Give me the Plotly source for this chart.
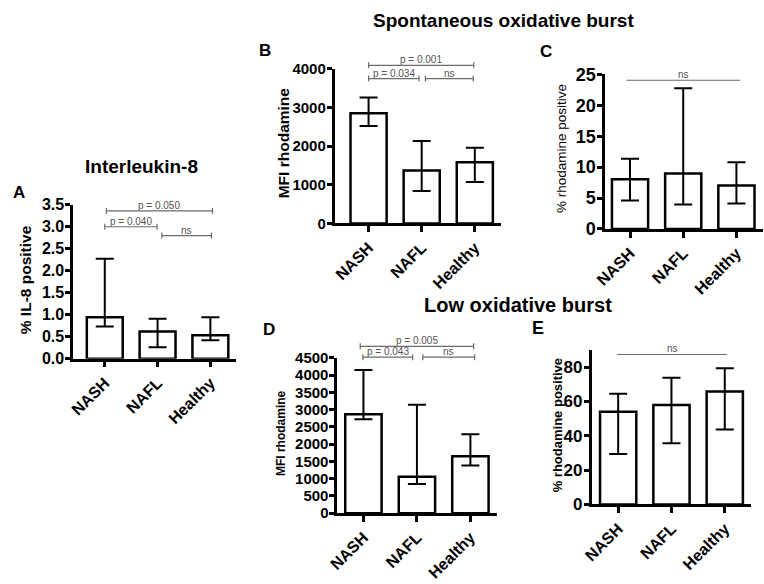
import plotly.graph_objects as go

W, H = 764, 584

groups = ["NASH", "NAFL", "Healthy"]

# Panel A: % IL-8 positive
a_vals = [0.94, 0.62, 0.53]
a_upper = [2.27, 0.91, 0.94]
a_lower = [0.73, 0.26, 0.42]
a_ticks = [0.0, 0.5, 1.0, 1.5, 2.0, 2.5, 3.0, 3.5]

# Panel B: spontaneous, MFI rhodamine
b_vals = [2850, 1367, 1583]
b_upper = [3258, 2133, 1958]
b_lower = [2525, 842, 1075]
b_ticks = [0, 1000, 2000, 3000, 4000]

# Panel C: spontaneous, % rhodamine positive
c_vals = [8.03, 8.97, 7.03]
c_upper = [11.36, 22.77, 10.78]
c_lower = [4.59, 3.97, 4.12]
c_ticks = [0, 5, 10, 15, 20, 25]

# Panel D: low, MFI rhodamine
d_vals = [2865, 1055, 1652]
d_upper = [4153, 3145, 2288]
d_lower = [2725, 849, 1381]
d_ticks = [0, 500, 1000, 1500, 2000, 2500, 3000, 3500, 4000, 4500]

# Panel E: low, % rhodamine positive
e_vals = [54.0, 57.9, 65.8]
e_upper = [64.5, 73.8, 79.3]
e_lower = [29.4, 35.6, 43.7]
e_ticks = [0, 20, 40, 60, 80]

# significance brackets: (x start, x end, level, label, end ticks)
a_sig = [(0.03, 2.04, 3.36, "p = 0.050", True),
         (0.0, 0.99, 3.00, "p = 0.040", True),
         (1.08, 2.02, 2.80, "ns", True)]
b_sig = [(0.0, 1.98, 4093, "p = 0.001", True),
         (0.0, 0.95, 3750, "p = 0.034", True),
         (1.07, 1.97, 3750, "ns", True)]
c_sig = [(-0.07, 2.07, 24.06, "ns", False)]
d_sig = [(-0.06, 2.06, 4836, "p = 0.005", True),
         (-0.01, 0.92, 4522, "p = 0.043", True),
         (1.11, 2.08, 4522, "ns", True)]
e_sig = [(-0.02, 2.04, 87.3, "ns", False)]

FONT = "Liberation Sans, Arial, Helvetica, sans-serif"

def fx(px):
    return px / W

def fy(py):
    return 1 - py / H

panels = [
    dict(vals=a_vals, up=a_upper, lo=a_lower, ticks=a_ticks, ymax=3.5, fmt=".1f",
         xd=(63, 228), yd=(361, 201.7), xr=(-0.6, 2.48), tsize=16, sig=a_sig),
    dict(vals=b_vals, up=b_upper, lo=b_lower, ticks=b_ticks, ymax=4000, fmt="d",
         xd=(328.3, 497), yd=(221, 61), xr=(-0.64, 2.49), tsize=15, sig=b_sig),
    dict(vals=c_vals, up=c_upper, lo=c_lower, ticks=c_ticks, ymax=25, fmt="d",
         xd=(602.7, 763), yd=(226.7, 66.7), xr=(-0.47, 2.5), tsize=18, sig=c_sig),
    dict(vals=d_vals, up=d_upper, lo=d_lower, ticks=d_ticks, ymax=4500, fmt="d",
         xd=(331, 492.7), yd=(521, 360.3), xr=(-0.49, 2.49), tsize=15, sig=d_sig),
    dict(vals=e_vals, up=e_upper, lo=e_lower, ticks=e_ticks, ymax=90, fmt="d",
         xd=(589, 750.7), yd=(512, 351.9), xr=(-0.5, 2.49), tsize=17, sig=e_sig),
]

fig = go.Figure()
shapes = []
annotations = []

for i, p in enumerate(panels):
    n = "" if i == 0 else str(i + 1)
    xa, ya = "x" + n, "y" + n
    fig.add_trace(go.Bar(
        x=list(range(len(groups))), y=p["vals"],
        xaxis=xa, yaxis=ya, width=0.68,
        marker=dict(color="white", line=dict(color="black", width=2.5)),
        error_y=dict(type="data", symmetric=False,
                     array=[u - v for u, v in zip(p["up"], p["vals"])],
                     arrayminus=[v - l for v, l in zip(p["vals"], p["lo"])],
                     color="black", thickness=2, width=9),
        showlegend=False, hoverinfo="skip",
    ))
    fig.layout["xaxis" + n] = dict(
        domain=[fx(p["xd"][0]), fx(p["xd"][1])], anchor=ya, range=list(p["xr"]),
        tickmode="array", tickvals=list(range(len(groups))), ticktext=groups,
        tickangle=-45, ticks="outside", ticklen=6, tickwidth=2.5, tickcolor="black",
        showline=True, linecolor="black", linewidth=2.5, showgrid=False, zeroline=False,
        tickfont=dict(family=FONT, size=16, color="black", weight="bold"),
        fixedrange=True,
    )
    fig.layout["yaxis" + n] = dict(
        domain=[fy(p["yd"][0]), fy(p["yd"][1])], anchor=xa, range=[0, p["ymax"]],
        tickmode="array", tickvals=p["ticks"], tickformat=p["fmt"],
        ticks="outside", ticklen=5, tickwidth=2.5, tickcolor="black",
        ticklabelstandoff=-2,
        showline=True, linecolor="black", linewidth=2.5, showgrid=False, zeroline=False,
        tickfont=dict(family=FONT, size=p["tsize"], color="black", weight="bold"),
        fixedrange=True,
    )
    yref_dom = ya + " domain"
    for (x0, x1, lvl, label, endticks) in p["sig"]:
        yd = lvl / p["ymax"]
        shapes.append(dict(type="line", xref=xa, yref=yref_dom, x0=x0, x1=x1, y0=yd, y1=yd,
                           line=dict(color="#6b6b6b", width=1.2)))
        if endticks:
            for xe in (x0, x1):
                shapes.append(dict(type="line", xref=xa, yref=yref_dom, ysizemode="pixel",
                                   yanchor=yd, x0=xe, x1=xe, y0=-3, y1=3,
                                   line=dict(color="#6b6b6b", width=1.2)))
        annotations.append(dict(xref=xa, yref=yref_dom, x=(x0 + x1) / 2, y=yd, text=label,
                                showarrow=False, xanchor="center", yanchor="bottom", yshift=-2,
                                font=dict(family=FONT, size=10, color="#555555")))

def txt(text, x, y, size, bold=True, angle=0, color="black"):
    annotations.append(dict(xref="paper", yref="paper", x=fx(x), y=fy(y), text=text,
                            showarrow=False, xanchor="center", yanchor="middle", textangle=angle,
                            font=dict(family=FONT, size=size, color=color,
                                      weight="bold" if bold else "normal")))

# titles
txt("Interleukin-8", 132, 162, 19)
txt("Spontaneous oxidative burst", 500, 11, 19)
txt("Low oxidative burst", 514, 305, 20)
# panel letters
txt("A", 8, 189, 17)
txt("B", 258, 42, 17)
txt("C", 543, 43, 17)
txt("D", 262, 331, 17)
txt("E", 535, 329, 18)
# y-axis titles
txt("% IL-8 positive", 15, 279, 15.5, angle=-90)
txt("MFI rhodamine", 276, 138, 15.5, angle=-90)
txt("% rhodamine positive", 558, 143, 13.5, bold=False, angle=-90)
txt("MFI rhodamine", 274, 438, 12, angle=-90)
txt("% rhodamine positive", 554, 430, 13, angle=-90)

fig.update_layout(
    width=W, height=H, margin=dict(l=0, r=0, t=0, b=0),
    paper_bgcolor="white", plot_bgcolor="white",
    shapes=shapes, annotations=annotations, showlegend=False,
    font=dict(family=FONT, color="black"),
)

fig.write_html("out.html", config={"displayModeBar": False},
               post_script="document.body.style.margin='0px';document.body.style.overflow='hidden';")
